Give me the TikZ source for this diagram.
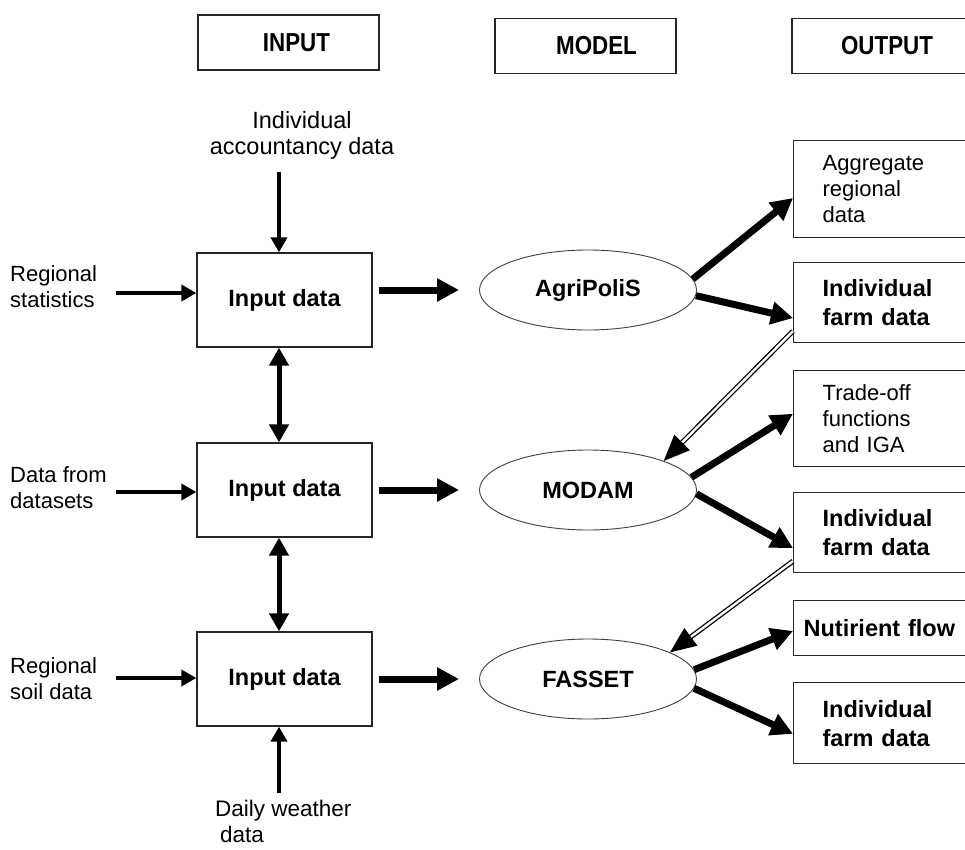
\documentclass[tikz,border=0pt]{standalone}
\usepackage{fontspec}
\setmainfont{Liberation Sans}
\newfontfamily\titlefont[FakeStretch=0.86]{Liberation Sans}
\usetikzlibrary{arrows.meta,shapes.geometric,calc}
\begin{document}
\begin{tikzpicture}[x=1pt,y=-1pt,
  regtext/.style={font=\fontsize{22}{26}\selectfont, inner sep=0pt},
  boldtext/.style={font=\bfseries\fontsize{23.5}{29}\selectfont},
  titlebox/.style={draw=black!85, line width=1.3pt, minimum width=181pt, minimum height=55pt, inner sep=0pt, font=\titlefont\bfseries\fontsize{26}{30}\selectfont},
  inbox/.style={draw=black!85, line width=1.3pt, minimum width=175pt, minimum height=94pt, inner sep=0pt, boldtext},
  ell/.style={ellipse, draw=black!75, line width=0.9pt, minimum width=217pt, minimum height=80pt, inner sep=0pt, boldtext},
  outbox/.style={draw=black!85, line width=1.3pt, anchor=north west, inner xsep=29pt, inner ysep=0pt, text width=132pt, align=left},
  thinarr/.style={line width=4pt, -{Triangle[length=15pt,width=16pt]}},
  vdarr/.style={line width=5pt, {Triangle[length=18pt,width=19pt]}-{Triangle[length=18pt,width=19pt]}},
  thickarr/.style={line width=7pt, -{Triangle[length=22pt,width=22pt]}},
  dblline/.style={double=white, double distance=2.4pt, line width=1.3pt, shorten >=22pt},
  dbltip/.style={fill=black}
]
\clip (0,0) rectangle (965,850);
\fill[white] (0,0) rectangle (965,850);

% titles
\node[titlebox] (tin) at (288.5,42.5) {\hspace*{16pt}INPUT};
\node[titlebox] (tmod) at (585.5,46) {\hspace*{22pt}MODEL};
\node[titlebox, minimum width=190pt] (tout) at (887,46) {OUTPUT};

% input boxes
\node[inbox] (in1) at (284.5,300) {Input data};
\node[inbox] (in2) at (284.5,490) {Input data};
\node[inbox] (in3) at (284.5,679) {Input data};

% input labels
\node[regtext, font=\fontsize{23.5}{26}\selectfont, align=center] (acc) at (302,135) {Individual\\accountancy data};
\node[regtext, align=left, anchor=west] (l1) at (10,287) {Regional\\statistics};
\node[regtext, align=left, anchor=west] (l2) at (10,488) {Data from\\datasets};
\node[regtext, align=left, anchor=west] (l3) at (10,679) {Regional\\soil data};
\node[regtext, font=\fontsize{22.5}{26}\selectfont, align=left, anchor=north west] (dw) at (215,800) {Daily weather\\\hspace*{5pt}data};

\coordinate (a1) at (116,293);
\coordinate (a2) at (116,492);
\coordinate (a3) at (116,678);
\coordinate (t0) at (279,172);
\coordinate (b0) at (279,793);

\draw[thinarr] (a1) -- (a1 -| in1.west);
\draw[thinarr] (a2) -- (a2 -| in2.west);
\draw[thinarr] (a3) -- (a3 -| in3.west);
\draw[thinarr] (t0) -- (t0 |- in1.north);
\draw[thinarr] (b0) -- (b0 |- in3.south);

\draw[vdarr] ($(in1.south)+(-5.5,0)$) -- ($(in2.north)+(-5.5,0)$);
\draw[vdarr] ($(in2.south)+(-5.5,0)$) -- ($(in3.north)+(-5.5,0)$);

% models
\node[ell] (agri) at (588,290) {AgriPoliS};
\node[ell] (modam) at (588,490) {MODAM};
\node[ell] (fasset) at (588,679) {FASSET};

\draw[thickarr, shorten <=6pt, shorten >=20pt] (in1.east |- agri.west) -- (agri.west);
\draw[thickarr, shorten <=6pt, shorten >=20pt] (in2.east |- modam.west) -- (modam.west);
\draw[thickarr, shorten <=6pt, shorten >=20pt] (in3.east |- fasset.west) -- (fasset.west);

% outputs
\node[outbox, regtext, inner xsep=29pt, minimum height=97pt] (agg) at (793,140) {Aggregate\\regional\\data};
\node[outbox, boldtext, minimum height=80pt] (ifd1) at (793,262) {Individual\\farm data};
\node[outbox, regtext, inner xsep=29pt, minimum height=96pt] (trade) at (793,370) {Trade-off\\functions\\and IGA};
\node[outbox, boldtext, minimum height=80pt] (ifd2) at (793,492) {Individual\\farm data};
\node[outbox, boldtext, inner xsep=10pt, text width=170pt, minimum height=55pt] (nut) at (793,600) {Nutirient flow};
\node[outbox, boldtext, minimum height=81pt] (ifd3) at (793,682) {Individual\\farm data};

\draw[thickarr] (agri.6) -- ($(agg.north west)!0.59!(agg.south west)$);
\draw[thickarr] (agri.-3) -- ($(ifd1.north west)!0.69!(ifd1.south west)$);
\draw[thickarr] (modam.7) -- ($(trade.north west)!0.45!(trade.south west)$);
\draw[thickarr] (modam.-2) -- ($(ifd2.north west)!0.69!(ifd2.south west)$);
\draw[thickarr] (fasset.5) -- ($(nut.north west)!0.55!(nut.south west)$);
\draw[thickarr] (fasset.-5) -- ($(ifd3.north west)!0.63!(ifd3.south west)$);

% feedback double arrows
\coordinate (f1s) at ($(ifd1.north west)!0.85!(ifd1.south west)$);
\coordinate (f2s) at ($(ifd2.north west)!0.85!(ifd2.south west)$);
\coordinate (f1e) at (modam.21);
\coordinate (f2e) at (fasset.18);
\coordinate (f1b) at ($(f1e)!26pt!(f1s)$);
\coordinate (f2b) at ($(f2e)!26pt!(f2s)$);
\draw[dblline] (f1s) -- (f1e);
\fill[dbltip] (f1e) -- ($(f1b)!11pt!90:(f1e)$) -- ($(f1b)!11pt!-90:(f1e)$) -- cycle;
\draw[dblline] (f2s) -- (f2e);
\fill[dbltip] (f2e) -- ($(f2b)!11pt!90:(f2e)$) -- ($(f2b)!11pt!-90:(f2e)$) -- cycle;
\end{tikzpicture}
\end{document}
